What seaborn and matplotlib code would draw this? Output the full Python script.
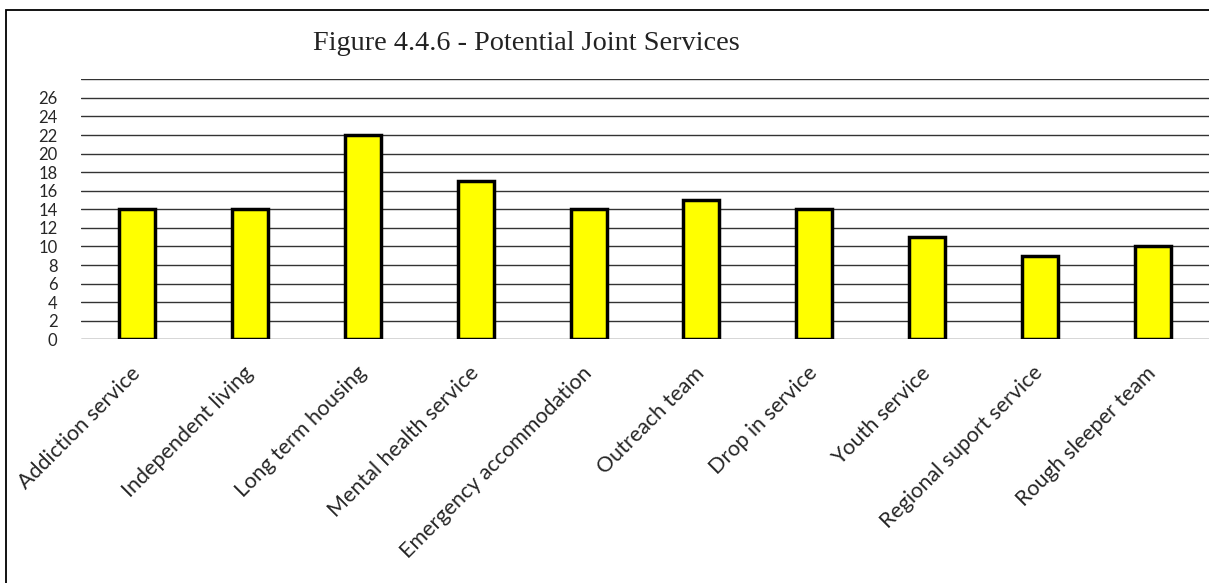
import matplotlib
matplotlib.use("Agg")
import matplotlib.pyplot as plt
import matplotlib.patches as mpatches
import seaborn as sns
import pandas as pd

services = ["Addiction service", "Independent living", "Long term housing",
            "Mental health service", "Emergency accommodation", "Outreach team",
            "Drop in service", "Youth service", "Regional suport service",
            "Rough sleeper team"]
counts = [14, 14, 22, 17, 14, 15, 14, 11, 9, 10]
y_ticks = list(range(0, 29, 2))
y_labels = [str(t) for t in y_ticks[:-1]] + [""]

df = pd.DataFrame({"service": services, "count": counts})

sns.set_style("white")
plt.rcParams['font.family'] = ['Lato', 'DejaVu Sans']

fig = plt.figure(figsize=(12.09, 5.83), dpi=100)
ax = fig.add_axes([81/1209, 1 - 339.3/583, 1 - 81/1209, (339.3 - 79.3)/583])

sns.barplot(data=df, x="service", y="count", color="#FFFF00", saturation=1,
            edgecolor="black", linewidth=2.5, width=0.32, ax=ax, zorder=3)

ax.set_ylim(0, 28)
ax.set_xlim(-0.5, 9.5)
ax.set_yticks(y_ticks)
ax.set_yticklabels(y_labels, fontsize=12)
ax.tick_params(axis='y', length=0, pad=17)
ax.tick_params(axis='x', length=0, pad=22)
ax.set_xticks(range(len(services)))
ax.set_xticklabels(services, rotation=45, ha='right', va='center',
                   rotation_mode='anchor', fontsize=15.5)
ax.set_xlabel("")
ax.set_ylabel("")
ax.yaxis.grid(True, color="#333333", linewidth=1)
ax.set_axisbelow(True)
for s in ax.spines.values():
    s.set_visible(False)

# outer frame of the figure
fig.patches.append(mpatches.Rectangle((6/1209, -0.01), 1.0, 1 - 10/583 + 0.01,
                                      transform=fig.transFigure, fill=False,
                                      edgecolor="black", linewidth=1.3))

fig.text(526/1209, 1 - 43/583, "Figure 4.4.6 - Potential Joint Services",
         ha='center', va='center', fontsize=20.3, family='Liberation Serif', color="#222222")

fig.savefig("out.png", dpi=100)
